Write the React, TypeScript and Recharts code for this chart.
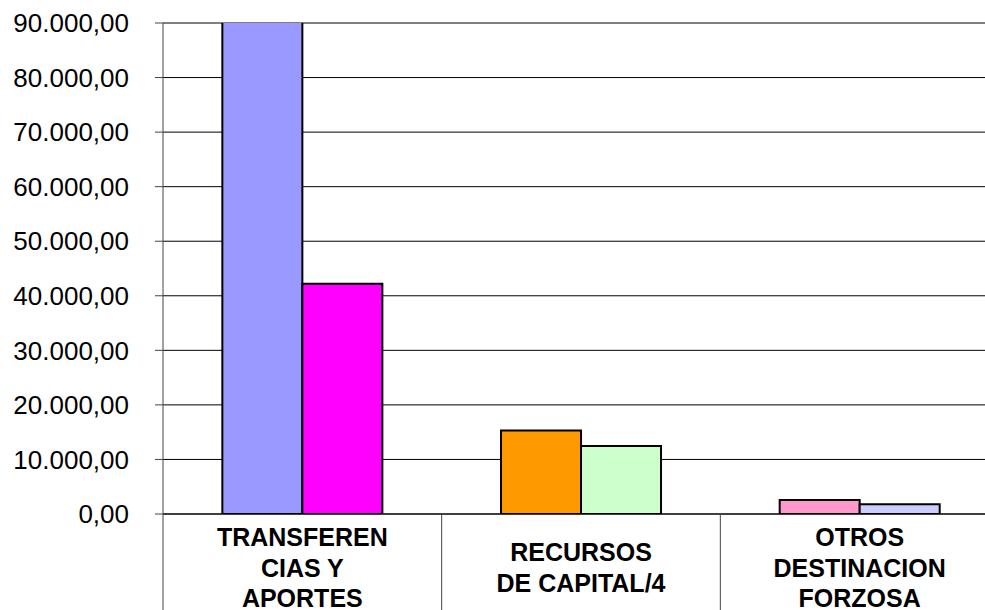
import React from "react";
import { BarChart, Bar, XAxis, YAxis, CartesianGrid, Cell } from "recharts";

const categories = [
  "TRANSFEREN\nCIAS Y\nAPORTES",
  "RECURSOS\nDE CAPITAL/4",
  "OTROS\nDESTINACION\nFORZOSA",
];
const serieA = [96000, 15300, 2550];
const serieB = [42200, 12450, 1800];
const colorsA = ["#9999FF", "#FF9900", "#FF99CC"];
const colorsB = ["#FF00FF", "#CCFFCC", "#CCCCFF"];
const yTicks = [0, 10000, 20000, 30000, 40000, 50000, 60000, 70000, 80000, 90000];

const data = categories.map((name, i) => ({ name, a: serieA[i], b: serieB[i] }));

const CHART_W = 999;
const CHART_H = 640;
const Y_AXIS_W = 163;
const BAND = (CHART_W - Y_AXIS_W) / categories.length;
const FONT = "'Liberation Sans', Arial, sans-serif";

function fmt(v: number): string {
  const [i, d] = v.toFixed(2).split(".");
  return i.replace(/\B(?=(\d{3})+(?!\d))/g, ".") + "," + d;
}

const CatTick = (props: any) => {
  const { x, y, payload, index } = props;
  const lines = String(payload.value).split("\n");
  const n = lines.length;
  return (
    <g>
      {index === 0 && (
        <line x1={x - BAND / 2} x2={x - BAND / 2} y1={y} y2={y + 130} stroke="#444" strokeWidth={1} />
      )}
      <line x1={x + BAND / 2} x2={x + BAND / 2} y1={y} y2={y + 130} stroke="#444" strokeWidth={1} />
      {lines.map((l, i) => (
        <text
          key={i}
          x={x}
          y={y + 62.5 + (i - (n - 1) / 2) * 30.5}
          textAnchor="middle"
          fontFamily={FONT}
          fontWeight="bold"
          fontSize={25}
          fill="#000"
        >
          {l}
        </text>
      ))}
    </g>
  );
};

export default function App() {
  return (
    <div
      style={{
        position: "fixed",
        left: 0,
        top: 0,
        width: 985,
        height: 610,
        overflow: "hidden",
        background: "#fff",
      }}
    >
      <BarChart
        width={CHART_W}
        height={CHART_H}
        data={data}
        margin={{ top: 23, right: 0, left: 0, bottom: 0 }}
        barCategoryGap="21.3%"
        barGap={0}
      >
        <CartesianGrid vertical={false} stroke="#000" strokeWidth={1} />
        <XAxis
          dataKey="name"
          height={CHART_H - 23 - 491}
          interval={0}
          tickLine={false}
          axisLine={{ stroke: "#000" }}
          tickSize={0}
          tickMargin={0}
          tick={<CatTick />}
        />
        <YAxis
          width={Y_AXIS_W}
          domain={[0, 90000]}
          ticks={yTicks}
          allowDataOverflow
          tickFormatter={fmt}
          tickSize={8}
          tickMargin={26}
          axisLine={{ stroke: "#444" }}
          tickLine={{ stroke: "#444" }}
          tick={{ fontSize: 26, fill: "#000", fontFamily: FONT }}
        />
        <Bar dataKey="a" stroke="#000" strokeWidth={2} isAnimationActive={false}>
          {data.map((_, i) => (
            <Cell key={i} fill={colorsA[i]} />
          ))}
        </Bar>
        <Bar dataKey="b" stroke="#000" strokeWidth={2} isAnimationActive={false}>
          {data.map((_, i) => (
            <Cell key={i} fill={colorsB[i]} />
          ))}
        </Bar>
      </BarChart>
    </div>
  );
}
